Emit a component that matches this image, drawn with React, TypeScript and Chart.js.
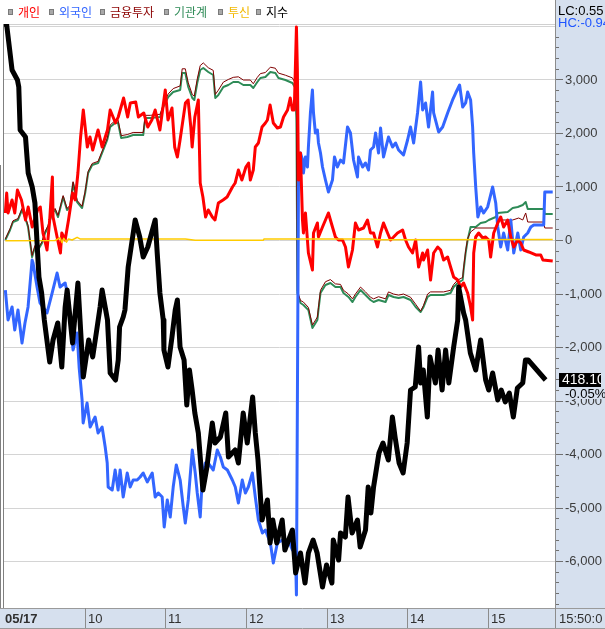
import React, { useEffect, useRef } from "react";
import { Chart, registerables } from "chart.js";

Chart.register(...registerables);

// ---------------- data (x = minutes after 09:00) ----------------
// 지수 (index, own hidden scale)
const idxTime = [
  0, 2, 4.5, 6, 10, 11, 12, 16, 18, 21,
  23, 25, 26, 28, 30, 34, 36.5, 40, 43, 45.5,
  47, 51, 55, 59, 63, 66, 69, 71.5, 73, 77,
  79, 83, 85, 86, 88.7, 90, 92.4, 97.6, 101, 103.6,
  107, 112.5, 114, 116, 118.5, 119, 122, 125, 127.4, 129,
  131, 134, 136, 138, 140, 142, 144.6, 146, 148, 151,
  155, 157, 161, 165, 167, 172, 174.4, 178, 181, 185,
  187, 189, 192, 196, 198, 200, 203, 207, 209, 214.6,
  217, 220.6, 224, 226.5, 230, 233, 237, 240, 244, 245,
  249, 250.4, 254, 256, 259, 263, 265, 269, 271, 273,
  275, 279, 282, 286, 289, 291, 294, 297, 300, 302.5,
  306, 308.5, 310, 312, 315, 317, 321, 323, 326, 328.6,
  331, 334.6, 337.6, 338.3, 342, 343.5, 347, 351, 354.7, 358.4,
  360.7, 363.6, 367.4, 370, 373, 376, 379, 382, 386, 388,
  390, 403,
];
const idxVal = [
  421.66, 421.65, 421.37, 421.2, 421.1, 421.03, 420.6, 420.53, 420.17, 420.03,
  419.87, 419.37, 419.13, 418.97, 418.7, 418.28, 418.5, 418.67, 418.23, 418.83,
  419.0, 418.47, 419.07, 418.13, 418.5, 418.33, 418.6, 418.83, 419.0, 418.7,
  418.17, 418.1, 418.3, 418.63, 418.73, 418.8, 419.23, 419.7, 419.53, 419.33,
  419.43, 419.7, 419.37, 418.97, 418.7, 418.4, 418.23, 418.53, 418.8, 418.9,
  418.43, 418.3, 417.85, 418.2, 418.0, 417.77, 417.57, 417.33, 417.0, 417.23,
  417.67, 417.47, 417.53, 417.77, 417.33, 417.4, 417.27, 417.77, 417.47, 417.93,
  417.57, 417.3, 416.7, 416.9, 416.47, 416.7, 416.47, 416.7, 416.4, 416.6,
  416.17, 416.37, 416.07, 416.37, 416.5, 416.37, 416.03, 416.25, 416.07, 416.5,
  416.3, 416.57, 416.53, 416.93, 416.57, 416.7, 416.43, 416.6, 417.03, 416.77,
  417.03, 417.37, 417.47, 417.3, 417.73, 417.53, 417.27, 417.17, 417.47, 418.0,
  418.03, 418.43, 418.07, 418.2, 417.73, 418.33, 418.07, 418.4, 418.0, 418.4,
  418.07, 418.43, 418.7, 419.03, 418.77, 418.7, 418.37, 418.2, 418.5, 418.1,
  418.0, 418.17, 417.9, 418.0, 417.88, 417.97, 417.73, 418.02, 418.07, 418.3,
  418.3, 418.1,
];

// 개인
const indivTime = [
  1, 2, 3, 6, 8, 10, 13, 16, 18, 21,
  25, 27, 29, 32, 34, 36, 36.5, 39.5, 42, 43,
  45.5, 48, 51, 53, 55, 57, 59, 62, 64, 66,
  70, 73, 77, 79, 83, 85, 89, 92, 94, 98,
  100, 104, 107, 110, 112.5, 116, 120, 122, 125, 127,
  129, 131, 135, 137, 139, 140, 142, 144.6, 146, 148,
  150, 152, 155, 157, 159.5, 163, 166, 170, 172, 174.4,
  177, 180, 182, 183.3, 185.5, 187, 189.3, 192, 194.5, 196,
  198, 200.4, 203.4, 205.7, 208, 211, 213, 214.6, 216, 217.6,
  218.3, 219.1, 220.6, 222.1, 222.8, 224.3, 226.5, 229.5, 230.3, 233.2,
  234, 237, 239.2, 241.4, 244.4, 246.6, 248.9, 251.9, 254.1, 256.3,
  259.3, 261.5, 263.8, 267.5, 270.5, 272.7, 275, 277.9, 280.2, 282.4,
  285.4, 287.6, 289.9, 292.8, 296.6, 298.8, 301, 304, 306.3, 308.5,
  311.5, 312.2, 315.2, 317.4, 319.7, 322.7, 324.9, 327.1, 330.1, 332.3,
  334.6, 337.6, 339.8, 342, 345, 347.2, 348.7, 349.5, 351, 353.2,
  356.2, 358.4, 360.7, 362.1, 364.4, 367.4, 369.6, 371.8, 374.8, 377.1,
  379.3, 382.3, 384.5, 386.7, 390.5, 395.7, 399.4, 401, 408.3,
];
const indivVal = [
  505, 878, 505, 748, 505, 935, 748, 374, 617, 243,
  561, 617, 131, -187, 374, 1177, 430, 56, -243, 131,
  0, 374, 878, 748, 1252, 1925, 2430, 1738, 1925, 1682,
  2056, 1738, 2056, 2430, 2187, 2299, 2654, 2299, 2561, 2579,
  2299, 2374, 2112, 2243, 2430, 2056, 2804, 2243, 2467, 1738,
  1551, 1869, 2561, 2617, 2112, 1738, 2299, 2617, 1065, 804,
  430, 561, 430, 374, 692, 748, 804, 991, 1065, 1308,
  1121, 1364, 1439, 1121, 1308, 1738, 1813, 2112, 2187, 2243,
  2523, 2187, 2093, 2112, 2299, 2430, 2654, 2430, 2430, 3981,
  3177, 1121, 1626, 374, 131, 505, -243, -561, 131, 318,
  56, 243, 374, 505, 243, 56, 0, 0, -131, -505,
  -187, 318, 187, 224, 374, 131, 131, -131, 131, 318,
  131, 0, 56, 131, 187, 0, -131, -243, 0, -505,
  -243, -374, -187, -748, -243, -131, -187, -374, -318, -505,
  -692, -748, -878, -804, -991, -1252, -1495, -243, 56, 131,
  37, 56, 0, -318, 131, 318, 430, 243, 374, 56,
  -131, 0, -56, -187, -224, -280, -280, -374, -392,
];

// 외국인
const foreignTime = [
  1, 3, 6, 8, 10.4, 13.4, 15.6, 17.9, 20.9, 21.6,
  24.6, 26.8, 32, 35.8, 39.5, 41.7, 45.5, 47.7, 49.2, 51.4,
  54.4, 55.9, 58.1, 58.9, 61.8, 64.1, 67.8, 70, 73, 75.3,
  76.8, 77.5, 80.5, 82.7, 84.9, 86.4, 88.7, 91.7, 93.9, 96.1,
  99.1, 101.3, 103.6, 106.6, 110.3, 112.5, 114.8, 117.7, 119.2, 121.5,
  123.7, 125.9, 128.2, 131.1, 133.4, 134.9, 137.1, 140.1, 142.3, 143.8,
  146, 147.5, 149.8, 152, 155.7, 158.7, 161, 163.2, 166.2, 169.9,
  172.1, 174.4, 177.3, 179.6, 181.8, 184.8, 187, 189.3, 192.3, 194.5,
  198.2, 200.4, 203.4, 207.2, 209.4, 211.6, 214.6, 216.8, 217.6, 219.1,
  220.6, 222.1, 222.8, 224.3, 225.8, 226.5, 228, 229.5, 230.3, 231.7,
  233.2, 234, 235.5, 237, 239.2, 241.4, 244.4, 245.9, 248.1, 250.4,
  252.6, 255.6, 257.8, 260.1, 263, 263.8, 266.8, 269, 271.2, 272.7,
  275, 276.5, 278.7, 280.2, 282.4, 286.1, 289.1, 291.4, 293.6, 297.3,
  300.3, 302.5, 304.8, 307.7, 310, 311.5, 313.7, 315.9, 318.9, 319.7,
  323.4, 326.4, 330.1, 333.8, 336.1, 339, 341.3, 343.5, 345, 347.2,
  348.7, 349.5, 351, 352.6, 354.7, 356.9, 359.9, 363.6, 365.9, 367.4,
  369.6, 371.8, 374.8, 377.1, 379.3, 382.3, 384.5, 386.7, 389.7, 392,
  394.2, 401.6, 402.4, 408.3,
];
const foreignVal = [
  -935, -1495, -1252, -1682, -1308, -1925, -1551, -1252, -374, -430,
  -878, -1177, -1364, -991, -617, -878, -804, -1065, -1495, -2056,
  -1738, -2374, -2990, -3420, -3046, -3495, -3308, -3607, -3495, -3869,
  -4168, -4617, -4673, -4299, -4673, -4299, -4804, -4355, -4617, -4486,
  -4486, -4430, -4355, -4523, -4355, -4804, -4729, -4804, -5364, -4859,
  -5177, -4617, -4205, -4486, -4990, -5289, -4859, -3925, -4355, -4729,
  -5177, -4486, -4168, -4168, -4299, -3925, -4056, -4243, -4299, -4486,
  -4617, -4916, -4486, -4729, -4617, -4355, -4804, -5233, -5476, -5420,
  -5663, -6037, -5663, -5607, -5738, -5607, -5794, -5738, -6635, 991,
  1626, 1495, 1252, 1551, 1364, 1738, 2374, 2804, 2374, 2000,
  2056, 1813, 1626, 1364, 1121, 897, 1121, 1551, 1364, 1495,
  1439, 2112, 2000, 1495, 1177, 1551, 1364, 1439, 1308, 1682,
  1738, 2000, 1626, 2093, 1551, 1925, 1738, 1813, 1682, 1589,
  1869, 2112, 1813, 2374, 2953, 2430, 2561, 2112, 2766, 2374,
  2019, 2112, 2374, 2617, 2747, 2897, 2486, 2561, 2766, 2617,
  2112, 1626, 991, 430, 617, 505, 617, 991, 692, 243,
  -131, 131, -187, 374, -243, 131, -187, 56, 131, 243,
  280, 280, 897, 897,
];

// 기관계
const instTime = [
  1, 4.5, 6.7, 10.4, 13.4, 15.6, 17.9, 20.9, 23.1, 25.3,
  28.3, 30.6, 32.8, 35.8, 38, 40.2, 44, 46.9, 49.2, 51.4,
  54.4, 58.1, 60.4, 62.6, 65.6, 70, 73, 76.8, 79, 82.7,
  84.9, 87.2, 91.7, 96.1, 103.6, 105.1, 108.8, 116.2, 118.5, 122.2,
  125.9, 131.1, 132.6, 134.9, 137.1, 140.1, 141.6, 143.8, 146, 148.3,
  152, 155.7, 157.2, 159.5, 163.2, 166.9, 170.6, 174.4, 178.1, 183.3,
  185.5, 188.5, 190.8, 194.5, 198.2, 201.9, 204.2, 209.4, 214.6, 216.8,
  217.6, 218.3, 220.6, 222.8, 226.5, 229.5, 233.2, 234, 235.5, 239.2,
  242.9, 246.6, 250.4, 252.6, 256.3, 259.3, 261.5, 265.3, 269, 272.7,
  275, 278.7, 283.9, 286.1, 289.9, 293.6, 297.3, 302.5, 306.3, 310,
  312.2, 315.2, 317.4, 327.1, 332.3, 334.6, 337.6, 341.3, 342, 343.5,
  345, 347.2, 351, 354.7, 358.4, 360.7, 365.9, 367.4, 374.8, 378.5,
  382.3, 386, 388.2, 389.7, 401.6, 402.4, 408.3,
];
const instVal = [
  0, 187, 336, 374, 561, 430, 243, -318, -131, -187,
  -56, 131, 243, 505, 561, 430, 804, 561, 617, 1065,
  710, 598, 878, 1252, 1402, 1439, 1626, 1869, 2112, 2187,
  2187, 1906, 1925, 1962, 1962, 2280, 2280, 2299, 2486, 2673,
  2766, 2804, 3121, 3121, 2860, 2654, 2617, 2934, 3177, 3215,
  3140, 3084, 2654, 2710, 2860, 2897, 2953, 2953, 2897, 2897,
  2841, 2953, 3028, 3046, 3140, 3121, 3028, 2990, 2934, 2841,
  2243, -991, -1177, -1215, -1308, -1645, -1495, -1308, -991, -841,
  -804, -878, -878, -991, -1065, -1159, -1065, -935, -1028, -1121,
  -1159, -1121, -1159, -1028, -1065, -1084, -1065, -1121, -1252, -1346,
  -1252, -1065, -1028, -1028, -991, -878, -804, -748, -561, -243,
  0, 243, 243, 318, 336, 374, 430, 505, 523, 598,
  617, 654, 710, 579, 579, 486, 486,
];

// 금융투자
const finTime = [
  1, 4.5, 6.7, 10.4, 13.4, 15.6, 17.9, 20.9, 23.1, 25.3,
  28.3, 30.6, 32.8, 35.8, 38, 40.2, 44, 46.9, 49.2, 51.4,
  54.4, 58.1, 60.4, 62.6, 65.6, 70, 73, 76.8, 79, 82.7,
  84.9, 87.2, 91.7, 96.1, 103.6, 105.1, 108.8, 116.2, 118.5, 122.2,
  125.9, 131.1, 132.6, 134.9, 137.1, 140.1, 141.6, 143.8, 146, 148.3,
  152, 155.7, 157.2, 159.5, 163.2, 166.9, 170.6, 174.4, 178.1, 183.3,
  185.5, 188.5, 190.8, 194.5, 198.2, 201.9, 204.2, 209.4, 214.6, 216.8,
  217.6, 218.3, 220.6, 222.8, 226.5, 229.5, 233.2, 234, 235.5, 239.2,
  242.9, 246.6, 250.4, 252.6, 256.3, 259.3, 261.5, 265.3, 269, 272.7,
  275, 278.7, 283.9, 286.1, 289.9, 293.6, 297.3, 302.5, 306.3, 310,
  312.2, 315.2, 317.4, 327.1, 332.3, 334.6, 337.6, 341.3, 342, 343.5,
  345, 347.2, 351, 366.6, 367.4, 378.5, 383, 386, 388.2, 389.7,
  401.6, 402.4, 408.3,
];
const finVal = [
  20, 210, 360, 400, 590, 460, 270, -290, -100, -160,
  -30, 160, 270, 530, 590, 460, 830, 590, 650, 1090,
  740, 630, 910, 1280, 1430, 1470, 1660, 1900, 2150, 2230,
  2240, 1950, 1970, 2010, 2010, 2330, 2330, 2350, 2540, 2730,
  2830, 2880, 3200, 3200, 2940, 2720, 2690, 3010, 3260, 3310,
  3220, 3170, 2720, 2800, 2950, 3000, 3040, 3050, 2990, 2990,
  2920, 3040, 3110, 3130, 3230, 3210, 3120, 3080, 3030, 2930,
  2320, -950, -1130, -1160, -1260, -1590, -1440, -1260, -940, -780,
  -740, -820, -830, -940, -1010, -1100, -1010, -880, -970, -1070,
  -1100, -1060, -1100, -970, -1010, -1030, -1010, -1070, -1200, -1330,
  -1220, -1010, -970, -970, -940, -830, -750, -700, -520, -210,
  30, 150, 224, 224, 374, 374, 411, 374, 505, 336,
  336, 224, 224,
];

// 투신
const trustTime = [1, 38, 41.7, 43.2, 44.5, 46.5, 48, 50.7, 54.4, 56.6, 134.9, 142.3, 193, 193.5, 272, 280, 408.3];
const trustVal = [-15, -10, 40, -50, 30, -40, 20, 0, 50, 20, 20, -5, -5, 20, 20, 5, 10];

// labels
const legendNames = ["개인", "외국인", "금융투자", "기관계", "투신", "지수"];
const legendColors = ["#ff0000", "#3366ff", "#8b0000", "#2e8b57", "#f2b800", "#000000"];
const yLabelValues = [3000, 2000, 1000, 0, -1000, -2000, -3000, -4000, -5000, -6000];
const xTickMinutes = [0, 60, 120, 180, 240, 300, 360];
const xTickLabels = ["05/17", "10", "11", "12", "13", "14", "15"];
const endTimeLabel = "15:50:0";
const lastIndexText = "418.10";
const lastChangeText = "-0.05%";
const lcText = "LC:0.55";
const hcText = "HC:-0.94";

const W = 605;
const H = 629;
const PANEL = "#d6e0ee";

const pts = (t: number[], v: number[]) => t.map((x, i) => ({ x, y: v[i] }));

const chrome = {
  id: "chrome",
  beforeDraw(chart: any) {
    const { ctx, chartArea: a, scales } = chart;
    const ys = scales.y;
    ctx.save();
    ctx.fillStyle = "#ffffff";
    ctx.fillRect(0, 0, W, H);
    ctx.strokeStyle = "#d4d4d4";
    ctx.lineWidth = 1;
    for (let v = -6000; v <= 4000; v += 1000) {
      const y = Math.round(ys.getPixelForValue(v)) + 0.5;
      ctx.beginPath();
      ctx.moveTo(a.left, y);
      ctx.lineTo(a.right, y);
      ctx.stroke();
    }
    ctx.strokeStyle = "#d0d0d0";
    ctx.beginPath();
    ctx.moveTo(a.left, a.top + 0.5);
    ctx.lineTo(a.right, a.top + 0.5);
    ctx.stroke();
    ctx.restore();
  },
  afterDraw(chart: any) {
    const { ctx, chartArea: a, scales } = chart;
    const ys = scales.y;
    const xs = scales.x;
    const yi = scales.yi;
    ctx.save();

    // left borders
    ctx.strokeStyle = "#808080";
    ctx.lineWidth = 1;
    ctx.beginPath();
    ctx.moveTo(3.5, a.top);
    ctx.lineTo(3.5, a.bottom);
    ctx.moveTo(0.5, 165);
    ctx.lineTo(0.5, a.bottom);
    ctx.stroke();

    // right panel
    const px = a.right;
    ctx.fillStyle = PANEL;
    ctx.fillRect(px, 0, W - px, a.bottom);
    ctx.strokeStyle = "#8c8c8c";
    ctx.beginPath();
    ctx.moveTo(px + 0.5, 0);
    ctx.lineTo(px + 0.5, a.bottom);
    ctx.stroke();

    ctx.strokeStyle = "#707070";
    for (let v = -6800; v <= 4000; v += 200) {
      const y = Math.round(ys.getPixelForValue(v)) + 0.5;
      if (y < 30 || y > a.bottom - 1) continue;
      const major = v % 1000 === 0;
      ctx.beginPath();
      ctx.moveTo(px + 1, y);
      ctx.lineTo(px + (major ? 8 : 4), y);
      ctx.stroke();
    }
    ctx.fillStyle = "#3c3c3c";
    ctx.font = "13px 'Liberation Sans'";
    ctx.textBaseline = "middle";
    ctx.textAlign = "left";
    for (const v of yLabelValues) {
      const y = ys.getPixelForValue(v);
      ctx.fillText(v.toLocaleString("en-US"), px + 10, y + 0.5);
    }

    // LC / HC
    ctx.fillStyle = "#000000";
    ctx.fillText(lcText, px + 3, 11);
    ctx.fillStyle = "#1f55ff";
    ctx.fillText(hcText, px + 3, 23);

    // last index marker
    const lastY = yi.getPixelForValue(idxVal[idxVal.length - 1]);
    ctx.save();
    ctx.beginPath();
    ctx.rect(px + 4, lastY - 7, 42, 14);
    ctx.clip();
    ctx.fillStyle = "#000000";
    ctx.fillRect(px + 4, lastY - 7, 42, 14);
    ctx.fillStyle = "#ffffff";
    ctx.font = "14px 'Liberation Sans'";
    ctx.fillText(lastIndexText, px + 7, lastY + 0.5);
    ctx.restore();
    ctx.fillStyle = PANEL;
    ctx.fillRect(px + 4, lastY + 7, W - px - 4, 12);
    ctx.fillStyle = "#000000";
    ctx.font = "13px 'Liberation Sans'";
    ctx.fillText(lastChangeText, px + 10, lastY + 14);

    // bottom panel
    ctx.fillStyle = PANEL;
    ctx.fillRect(0, a.bottom, W, 20);
    ctx.strokeStyle = "#9a9a9a";
    ctx.beginPath();
    ctx.moveTo(0, a.bottom + 0.5);
    ctx.lineTo(W, a.bottom + 0.5);
    ctx.moveTo(0, a.bottom + 20.5);
    ctx.lineTo(W, a.bottom + 20.5);
    ctx.stroke();
    ctx.strokeStyle = "#8c8c8c";
    const seps: number[] = [];
    for (let i = 1; i < xTickMinutes.length; i++) seps.push(Math.round(xs.getPixelForValue(xTickMinutes[i])) + 0.5);
    seps.push(px + 0.5);
    ctx.beginPath();
    for (const sx of seps) {
      ctx.moveTo(sx, a.bottom);
      ctx.lineTo(sx, a.bottom + 20);
    }
    ctx.stroke();
    ctx.fillStyle = "#303030";
    for (let i = 0; i < xTickLabels.length; i++) {
      const lx = i === 0 ? 5 : Math.round(xs.getPixelForValue(xTickMinutes[i])) + 3;
      ctx.font = i === 0 ? "bold 13px 'Liberation Sans'" : "13px 'Liberation Sans'";
      ctx.fillText(xTickLabels[i], lx, a.bottom + 11);
    }
    ctx.font = "13px 'Liberation Sans'";
    ctx.fillText(endTimeLabel, px + 4, a.bottom + 11);

    // legend
    const boxX = [8, 49, 100, 164, 218, 256];
    ctx.font = "12px 'Noto Sans CJK KR'";
    ctx.textBaseline = "middle";
    for (let i = 0; i < legendNames.length; i++) {
      ctx.fillStyle = "#a8a8a8";
      ctx.fillRect(boxX[i], 9, 5, 6);
      ctx.strokeStyle = "#7a7a7a";
      ctx.strokeRect(boxX[i] + 0.5, 9.5, 4, 5);
      ctx.fillStyle = legendColors[i];
      ctx.fillText(legendNames[i], boxX[i] + 10, 12.5);
    }
    ctx.restore();
  },
};

export default function App() {
  const ref = useRef<HTMLCanvasElement>(null);
  useEffect(() => {
    if (!ref.current) return;
    const common = { pointRadius: 0, fill: false, tension: 0, borderJoinStyle: "round" as const };
    const chart = new Chart(ref.current, {
      type: "line",
      data: {
        datasets: [
          { ...common, label: "지수", data: pts(idxTime, idxVal), yAxisID: "yi", borderColor: "#000000", borderWidth: 5, order: 0 },
          { ...common, label: "투신", data: pts(trustTime, trustVal), yAxisID: "y", borderColor: "#ffcc00", borderWidth: 1.5, order: 1 },
          { ...common, label: "개인", data: pts(indivTime, indivVal), yAxisID: "y", borderColor: "#ff0000", borderWidth: 3, order: 2 },
          { ...common, label: "외국인", data: pts(foreignTime, foreignVal), yAxisID: "y", borderColor: "#3366ff", borderWidth: 3, order: 3 },
          { ...common, label: "금융투자", data: pts(finTime, finVal), yAxisID: "y", borderColor: "#800000", borderWidth: 1, order: 4 },
          { ...common, label: "기관계", data: pts(instTime, instVal), yAxisID: "y", borderColor: "#2e8b57", borderWidth: 2, order: 5 },
        ],
      },
      options: {
        animation: false,
        responsive: false,
        devicePixelRatio: 1,
        events: [],
        layout: { padding: { left: 4, top: 24, right: 50, bottom: 21 } },
        plugins: { legend: { display: false }, tooltip: { enabled: false } },
        scales: {
          x: { type: "linear", min: 0, max: 410, display: false },
          y: { type: "linear", min: -6878, max: 4037, display: false },
          yi: { type: "linear", min: 415.82, max: 421.66, display: false },
        },
      },
      plugins: [chrome],
    });
    return () => chart.destroy();
  }, []);
  return (
    <div style={{ position: "absolute", left: 0, top: 0, width: W, height: H, background: "#fff" }}>
      <canvas ref={ref} width={W} height={H} style={{ display: "block", width: W, height: H }} />
    </div>
  );
}
